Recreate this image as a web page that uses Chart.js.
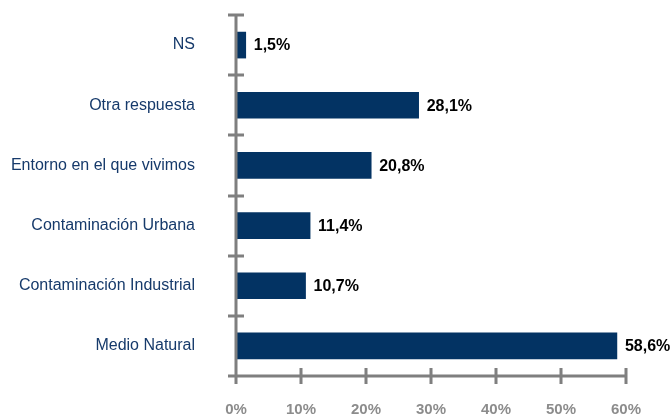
<!DOCTYPE html>
<html>
<head>
<meta charset="utf-8">
<script src="https://cdn.jsdelivr.net/npm/chart.js@4.4.1/dist/chart.umd.min.js"></script>
<style>
  html, body { margin: 0; padding: 0; background: #fff; }
  #wrap { width: 671px; height: 417px; position: relative; }
</style>
</head>
<body>
<div id="wrap"><canvas id="c"></canvas></div>
<script>
// categories top to bottom, percentages
const categories = ["NS", "Otra respuesta", "Entorno en el que vivimos", "Contaminación Urbana", "Contaminación Industrial", "Medio Natural"];
const values = [1.5, 28.1, 20.8, 11.4, 10.7, 58.6];
const xTicks = [0, 10, 20, 30, 40, 50, 60];

const NAVY = "#033363";
const AXIS = "#7f7f7f";
const FONT = "'Liberation Sans', Arial, sans-serif";

const pct = (v) => v.toFixed(1).replace(".", ",") + "%";

// gray axes with tick marks crossing the line, like the original
const axesPlugin = {
  id: "axes",
  afterDatasetsDraw(chart) {
    const { ctx, chartArea: a, scales: { x, y } } = chart;
    ctx.save();
    ctx.strokeStyle = AXIS;
    ctx.lineWidth = 3;
    ctx.lineCap = "butt";
    const step = y.getPixelForValue(1) - y.getPixelForValue(0);
    ctx.beginPath();
    ctx.moveTo(a.left, y.getPixelForValue(0) - step / 2 - 1.5);
    ctx.lineTo(a.left, a.bottom);
    ctx.moveTo(a.left, a.bottom);
    ctx.lineTo(x.getPixelForValue(60), a.bottom);
    for (let i = 0; i <= categories.length; i++) {
      const py = Math.round(y.getPixelForValue(i) - step / 2);
      ctx.moveTo(a.left - 8, py);
      ctx.lineTo(a.left + 8, py);
    }
    for (const t of xTicks) {
      const px = Math.round(x.getPixelForValue(t));
      ctx.moveTo(px, a.bottom - 8);
      ctx.lineTo(px, a.bottom + 8);
    }
    ctx.stroke();

    // value labels next to the bars
    ctx.fillStyle = "#000";
    ctx.font = "bold 16px " + FONT;
    ctx.textBaseline = "middle";
    chart.getDatasetMeta(0).data.forEach((bar, i) => {
      ctx.fillText(pct(values[i]), bar.x + 8, bar.y + 1);
    });
    ctx.restore();
  },
};

new Chart(document.getElementById("c"), {
  type: "bar",
  data: {
    labels: categories,
    datasets: [{ data: values, backgroundColor: NAVY, barThickness: 26, borderSkipped: false }],
  },
  options: {
    indexAxis: "y",
    responsive: true,
    maintainAspectRatio: false,
    animation: false,
    layout: { padding: { left: 0, right: 45, top: 15, bottom: 0 } },
    plugins: { legend: { display: false }, tooltip: { enabled: false } },
    scales: {
      x: {
        min: 0, max: 60,
        afterBuildTicks: (s) => { s.ticks = xTicks.map((v) => ({ value: v })); },
        afterFit: (s) => { s.height = 41; },
        grid: { display: false, drawTicks: false },
        border: { display: false },
        ticks: { padding: 25, color: "#8c8c8c", font: { family: FONT, size: 15, weight: "bold" }, callback: (v) => v + "%" },
      },
      y: {
        // fixed width; drop the label padding chart.js adds above/below
        afterFit: (s) => { s.width = 236; s.paddingTop = 0; s.paddingBottom = 0; },
        grid: { display: false, drawTicks: false },
        border: { display: false },
        ticks: { padding: 41, color: "#163a6b", font: { family: FONT, size: 16 } },
      },
    },
  },
  plugins: [axesPlugin],
});
</script>
</body>
</html>
